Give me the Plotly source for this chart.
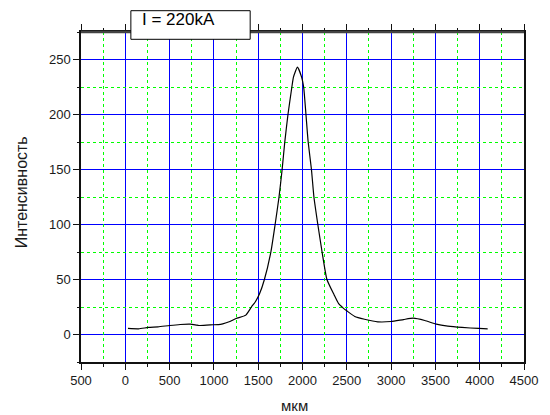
import plotly.graph_objects as go

# Intensity profile across the beam (I = 220 kA)
position_um = [30, 150, 260, 370, 500, 620, 735, 800, 830, 960, 1050, 1100,
               1180, 1250, 1360, 1423, 1470, 1515, 1570, 1643, 1691, 1735,
               1770, 1800, 1836, 1880, 1898, 1943, 1990, 2013, 2039, 2064,
               2101, 2129, 2173, 2221, 2276, 2357, 2408, 2460, 2500, 2590,
               2700, 2850, 3000, 3140, 3250, 3380, 3510, 3640, 3800, 3990,
               4090]
intensity = [5.5, 5.2, 6.4, 7.0, 8.2, 9.1, 9.4, 8.6, 8.2, 8.8, 9.0, 9.7,
             11.8, 14.5, 17.6, 25, 30, 37, 50, 75, 100, 125,
             150, 175, 200, 225, 234, 243, 234, 225, 200, 175,
             150, 125, 100, 75, 50, 36, 28, 24, 21.5, 16.4,
             13.9, 11.5, 11.8, 13.6, 14.8, 12.7, 9.4, 7.6, 6.4, 5.5,
             5.2]

X_RANGE = [-500, 4500]
Y_RANGE = [-25, 275]

# the -500 tick is printed without its sign
x_label_alias = {"\u2212500": "500", "-500": "500"}

W, H = 550, 415
L, R, T, B = 81, 534, 32, 362
FONT = "Liberation Sans, Arial, sans-serif"


def px(x):
    return (x - L) / (R - L)


def py(y):
    return (B - y) / (B - T)


fig = go.Figure()
fig.add_trace(go.Scatter(x=position_um, y=intensity, mode="lines",
                         line=dict(color="black", width=1.2,
                                   shape="spline", smoothing=0.5),
                         showlegend=False, hoverinfo="skip"))
# empty traces so the overlay axes (minor grid) get their subplots
fig.add_trace(go.Scatter(x=[], y=[], xaxis="x2", yaxis="y",
                         showlegend=False, hoverinfo="skip"))
fig.add_trace(go.Scatter(x=[], y=[], xaxis="x", yaxis="y2",
                         showlegend=False, hoverinfo="skip"))

tickfont = dict(family=FONT, size=13, color="#1a1a1a")

major = dict(showline=True, linecolor="#111", linewidth=1.5,
             ticks="outside", ticklen=6, tickwidth=1.3, tickcolor="#111",
             showgrid=True, gridcolor="#0000ff", gridwidth=1,
             zeroline=False, tickfont=tickfont, layer="below traces")
minor = dict(showline=False, ticks="outside", ticklen=3.5, tickwidth=1.3,
             tickcolor="#111", showgrid=True, gridcolor="#00ff00",
             gridwidth=1, griddash="dot", zeroline=False,
             showticklabels=False, tickmode="linear")

fig.update_layout(
    xaxis=dict(range=X_RANGE, tickmode="linear", tick0=-500, dtick=500,
               labelalias=x_label_alias, mirror="allticks", **major),
    yaxis=dict(range=Y_RANGE, tickmode="linear", tick0=0, dtick=50,
               mirror=True, **major),
    xaxis2=dict(overlaying="x", anchor="y", side="bottom", range=X_RANGE,
                tick0=-250, dtick=500, mirror="allticks", **minor),
    yaxis2=dict(overlaying="y", anchor="x", side="left", range=Y_RANGE,
                tick0=25, dtick=50, **minor),
)

# heavier frame on the top edge
fig.add_shape(type="line", xref="paper", yref="paper", x0=0, x1=1, y0=1, y1=1,
              line=dict(color="#444", width=2.5), layer="above")

# legend box
fig.add_shape(type="rect", xref="paper", yref="paper",
              x0=px(132), x1=px(254), y0=py(39.3), y1=py(10.7),
              fillcolor="white", line=dict(color="black", width=1),
              layer="above")
fig.add_annotation(text="I = 220kA", xref="paper", yref="paper",
                   x=px(141), y=py(20), xanchor="left", yanchor="middle",
                   showarrow=False,
                   font=dict(family=FONT, size=17, color="black"))

# axis titles
fig.add_annotation(text="Интенсивность", xref="paper", yref="paper",
                   x=px(20), y=py(192), textangle=-90, showarrow=False,
                   xanchor="center", yanchor="middle",
                   font=dict(family=FONT, size=16, color="#1a1a1a"))
fig.add_annotation(text="мкм", xref="paper", yref="paper",
                   x=px(299), y=py(405), showarrow=False,
                   xanchor="center", yanchor="middle",
                   font=dict(family=FONT, size=15, color="#1a1a1a"))

fig.update_layout(
    width=W, height=H,
    margin=dict(l=L, r=W - R, t=T, b=H - B),
    paper_bgcolor="white", plot_bgcolor="white",
)

fig.write_html("out.html")
